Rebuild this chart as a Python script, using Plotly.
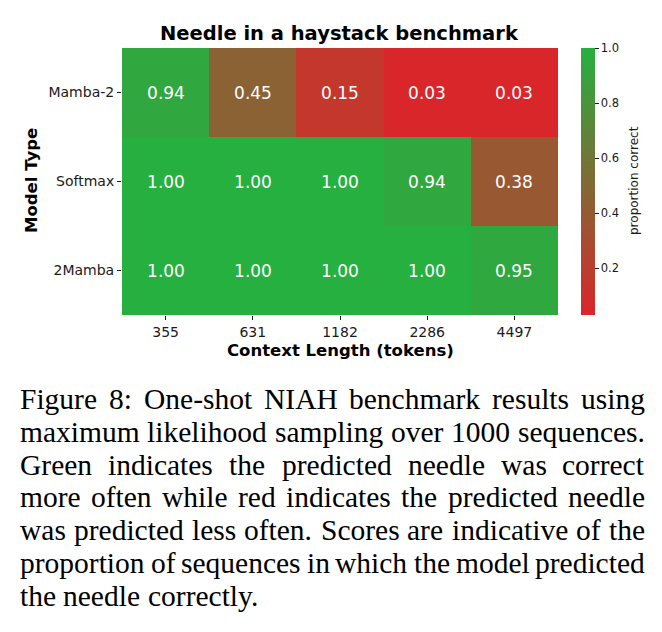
import plotly.graph_objects as go

# ---------------- data ----------------
context_lengths = ["355", "631", "1182", "2286", "4497"]
models = ["Mamba-2", "Softmax", "2Mamba"]
mamba2_scores = [0.94, 0.45, 0.15, 0.03, 0.03]
softmax_scores = [1.00, 1.00, 1.00, 0.94, 0.38]
twomamba_scores = [1.00, 1.00, 1.00, 1.00, 0.95]
colorbar_ticks = [0.2, 0.4, 0.6, 0.8, 1.0]

title_text = "Needle in a haystack benchmark"
x_title = "Context Length (tokens)"
y_title = "Model Type"
cbar_title = "proportion correct"

caption_lines = [
    "Figure 8: One-shot NIAH benchmark results using",
    "maximum likelihood sampling over 1000 sequences.",
    "Green indicates the predicted needle was correct",
    "more often while red indicates the predicted needle",
    "was predicted less often. Scores are indicative of the",
    "proportion of sequences in which the model predicted",
    "the needle correctly.",
]

# ---------------- layout geometry (pixels) ----------------
W, H = 662, 632
L, R, T, B = 122, 558, 48, 315


def px_x(x):
    return (x - L) / (R - L)


def px_y(y):
    return (B - y) / (B - T)


z = [mamba2_scores, softmax_scores, twomamba_scores]
zmin = min(min(r) for r in z)

SANS = "DejaVu Sans"
SERIF = "Liberation Serif"
TXT = "#1a1a1a"

fig = go.Figure(
    go.Heatmap(
        z=z,
        x=context_lengths,
        y=models,
        zmin=zmin,
        zmax=1.0,
        colorscale=[[0, "rgb(217,38,42)"], [1, "rgb(38,176,64)"]],
        texttemplate="%{z:.2f}",
        textfont=dict(family=SANS, size=17, color="white"),
        hoverinfo="skip",
        colorbar=dict(
            x=px_x(581), xanchor="left", xpad=0,
            y=0.5, yanchor="middle", ypad=0,
            len=1, lenmode="fraction", thickness=14,
            outlinewidth=0,
            ticks="outside", ticklen=4, tickwidth=1, tickcolor=TXT,
            tickvals=colorbar_ticks, tickformat=".1f",
            tickfont=dict(family=SANS, size=11.5, color=TXT),
        ),
    )
)

annotations = [
    dict(text="<b>" + title_text + "</b>", x=px_x(339), y=px_y(33),
         font=dict(family=SANS, size=19.5, color="black")),
    dict(text="<b>" + x_title + "</b>", x=px_x(340), y=px_y(351),
         font=dict(family=SANS, size=16.5, color="black")),
    dict(text="<b>" + y_title + "</b>", x=px_x(31), y=px_y(181), textangle=-90,
         font=dict(family=SANS, size=16.5, color="black")),
    dict(text=cbar_title, x=px_x(634), y=px_y(181), textangle=-90,
         font=dict(family=SANS, size=12, color=TXT)),
]
for a in annotations:
    a.update(xref="paper", yref="paper", showarrow=False,
             xanchor="center", yanchor="middle")

# ---- caption: justified text placed word by word (Times metrics) ----
TIMES_W = {
    " ": 250, ".": 250, ":": 278, "-": 333, ",": 250,
    "A": 722, "F": 556, "G": 722, "H": 722, "I": 333, "N": 722, "O": 722, "S": 556,
    "a": 444, "b": 500, "c": 444, "d": 500, "e": 444, "f": 333, "g": 500, "h": 500,
    "i": 278, "j": 278, "k": 500, "l": 278, "m": 778, "n": 500, "o": 500, "p": 500,
    "q": 500, "r": 333, "s": 389, "t": 278, "u": 500, "v": 500, "w": 722, "x": 500,
    "y": 500, "z": 444,
}
CAP_SIZE = 29.5
CAP_LEFT, CAP_RIGHT = 20, 645
CAP_Y0, CAP_DY = 399, 32.8


def word_w(w):
    return sum(TIMES_W.get(c, 500) for c in w) / 1000.0 * CAP_SIZE


for i, line in enumerate(caption_lines):
    ypx = CAP_Y0 + i * CAP_DY
    words = line.split(" ")
    widths = [word_w(w) for w in words]
    last = i == len(caption_lines) - 1
    if last or len(words) == 1:
        gap = TIMES_W[" "] / 1000.0 * CAP_SIZE
    else:
        gap = (CAP_RIGHT - CAP_LEFT - sum(widths)) / (len(words) - 1)
    xcur = CAP_LEFT
    for j, (w, ww) in enumerate(zip(words, widths)):
        if (not last) and j == len(words) - 1:
            ax, anc = CAP_RIGHT, "right"
        else:
            ax, anc = xcur, "left"
        annotations.append(dict(
            text=w, x=px_x(ax), y=px_y(ypx), xref="paper", yref="paper",
            xanchor=anc, yanchor="middle", showarrow=False,
            borderpad=0, borderwidth=0,
            font=dict(family=SERIF, size=CAP_SIZE, color="black"),
        ))
        xcur += ww + gap

axis_common = dict(
    type="category", ticks="outside", ticklen=4, tickwidth=1, tickcolor=TXT,
    tickfont=dict(family=SANS, size=14, color=TXT),
    showgrid=False, zeroline=False, showline=False,
)

fig.update_layout(
    width=W, height=H,
    margin=dict(l=L, r=W - R, t=T, b=H - B, pad=0),
    paper_bgcolor="white", plot_bgcolor="white",
    xaxis=axis_common,
    yaxis=dict(axis_common, autorange="reversed"),
    annotations=annotations,
    showlegend=False,
)

fig.write_html("out.html")
